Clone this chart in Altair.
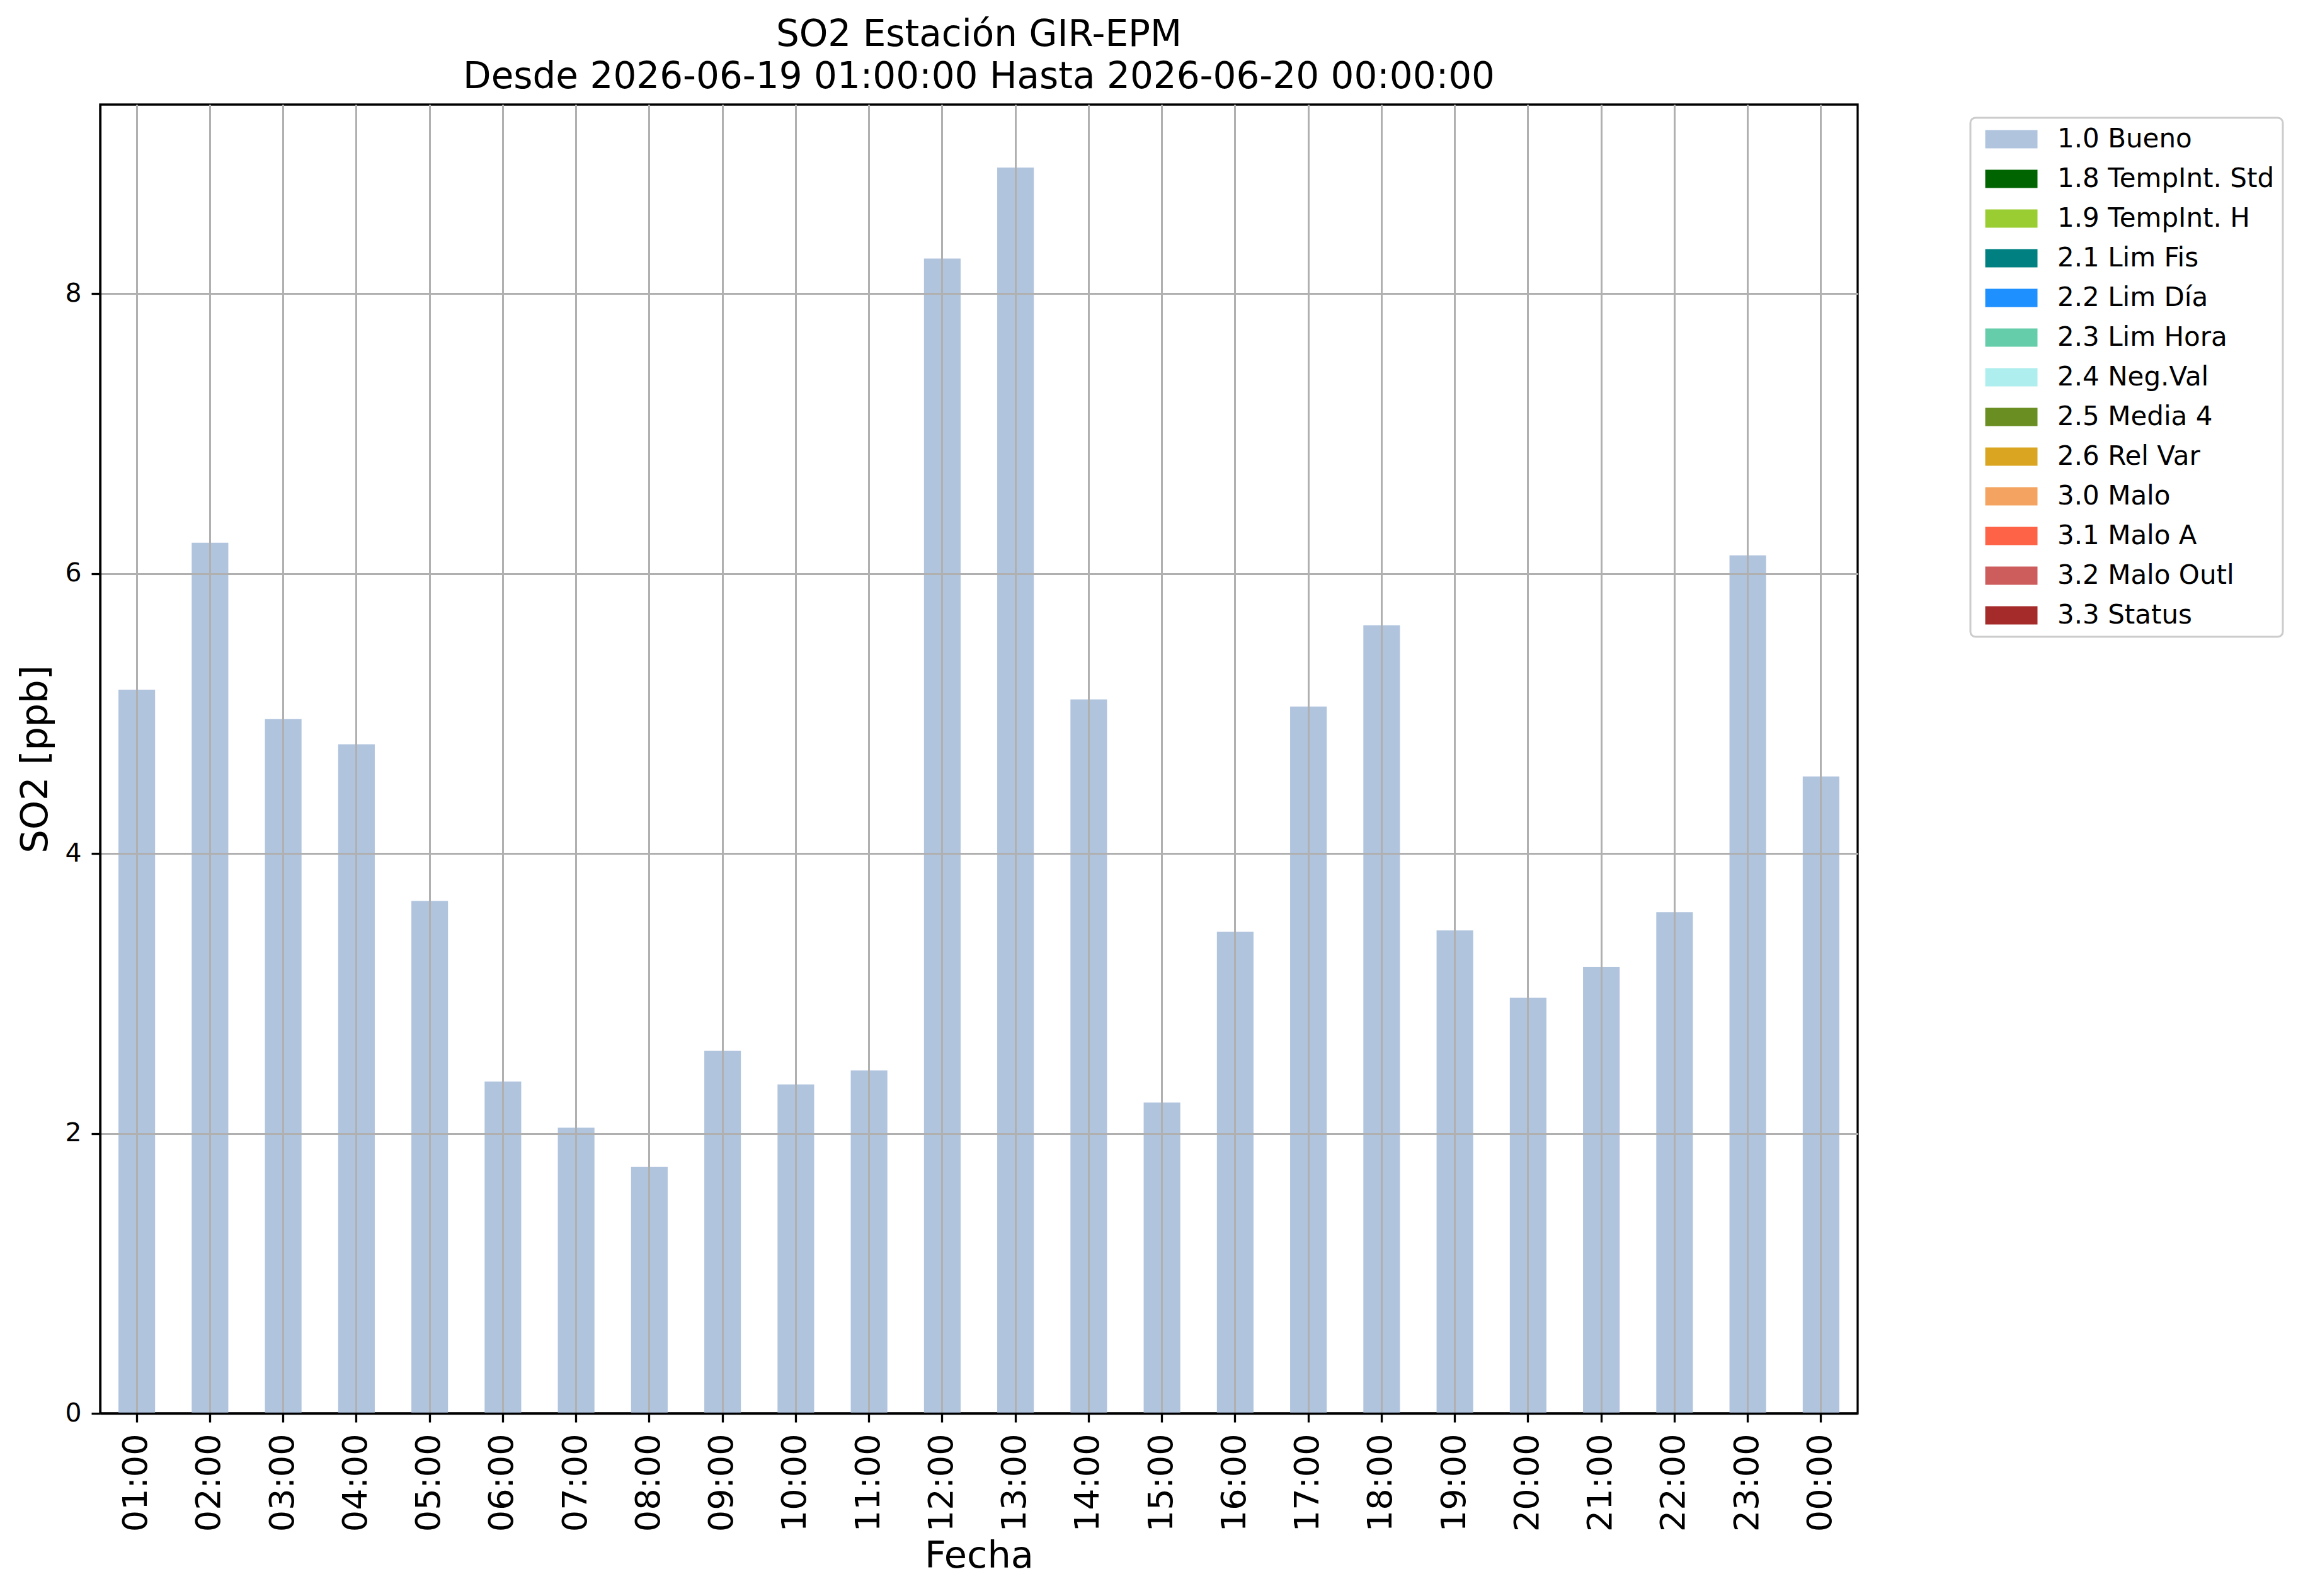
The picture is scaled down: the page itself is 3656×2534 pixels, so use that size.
import altair as alt
import pandas as pd

hours = ["01:00", "02:00", "03:00", "04:00", "05:00", "06:00", "07:00", "08:00",
         "09:00", "10:00", "11:00", "12:00", "13:00", "14:00", "15:00", "16:00",
         "17:00", "18:00", "19:00", "20:00", "21:00", "22:00", "23:00", "00:00"]
so2 = [5.17, 6.22, 4.96, 4.78, 3.66, 2.37, 2.04, 1.76, 2.59, 2.35, 2.45, 8.25,
       8.90, 5.10, 2.22, 3.44, 5.05, 5.63, 3.45, 2.97, 3.19, 3.58, 6.13, 4.55]
flags = ["1.0 Bueno"] * 24

categories = ["1.0 Bueno", "1.8 TempInt. Std", "1.9 TempInt. H", "2.1 Lim Fis",
              "2.2 Lim Día", "2.3 Lim Hora", "2.4 Neg.Val", "2.5 Media 4",
              "2.6 Rel Var", "3.0 Malo", "3.1 Malo A", "3.2 Malo Outl", "3.3 Status"]
colors = ["#b0c4de", "#006400", "#9acd32", "#008080", "#1e90ff", "#66cdaa",
          "#afeeee", "#6b8e23", "#daa520", "#f4a460", "#ff6347", "#cd5c5c", "#a52a2a"]

df = pd.DataFrame({"Fecha": hours, "SO2": so2, "Flag": flags})

FONT = "DejaVu Sans"

chart = alt.Chart(df).mark_bar(opacity=1).encode(
    x=alt.X("Fecha:N", sort=hours,
            scale=alt.Scale(paddingInner=0.5, paddingOuter=0.25),
            axis=alt.Axis(title="Fecha", labelAngle=270, labelFontSize=54,
                          labelPadding=18, titleFontSize=59, titlePadding=10,
                          bandPosition=0.5, grid=True, zindex=1)),
    y=alt.Y("SO2:Q", scale=alt.Scale(domain=[0, 9.35], nice=False, zero=True),
            axis=alt.Axis(title="SO2 [ppb]", values=[0, 2, 4, 6, 8], format="d",
                          labelFontSize=41, labelPadding=16, titleFontSize=59,
                          titlePadding=16, grid=True, zindex=1)),
    color=alt.Color("Flag:N",
                    scale=alt.Scale(domain=categories, range=colors),
                    legend=alt.Legend(
                        title=None, orient="none", legendX=2969, legendY=21,
                        labelFontSize=42, labelFont=FONT, labelLimit=0,
                        labelColor="black",
                        symbolType="M-0.72,-1L5,-1L5,1L-0.72,1Z",
                        symbolSize=841, symbolStrokeWidth=0, symbolOpacity=1,
                        labelOffset=83, rowPadding=21,
                        padding=13, strokeColor="#cccccc", cornerRadius=8,
                        fillColor="white", values=categories)),
).properties(
    width=2790,
    height=2078,
    padding={"left": 151, "top": 158, "right": 690, "bottom": 280},
    autosize=alt.AutoSizeParams(type="none"),
    title=alt.TitleParams(
        text=["SO2 Estación GIR-EPM", "Desde 2026-06-19 01:00:00 Hasta 2026-06-20 00:00:00"],
        fontSize=58, font=FONT, fontWeight="normal", color="black",
        anchor="middle", lineHeight=67, offset=14),
).configure_axis(
    labelFont=FONT, titleFont=FONT, labelColor="black", titleColor="black",
    titleFontWeight="normal", gridColor="#b0b0b0", gridWidth=3, gridOpacity=1,
    domainColor="black", domainWidth=3.3, tickColor="black", tickWidth=3.3,
    tickSize=14,
).configure_view(
    stroke="black", strokeWidth=3.3,
).configure_legend(
    strokeWidth=3,
)

chart.save("out.html", embed_options={"renderer": "svg", "actions": False})
